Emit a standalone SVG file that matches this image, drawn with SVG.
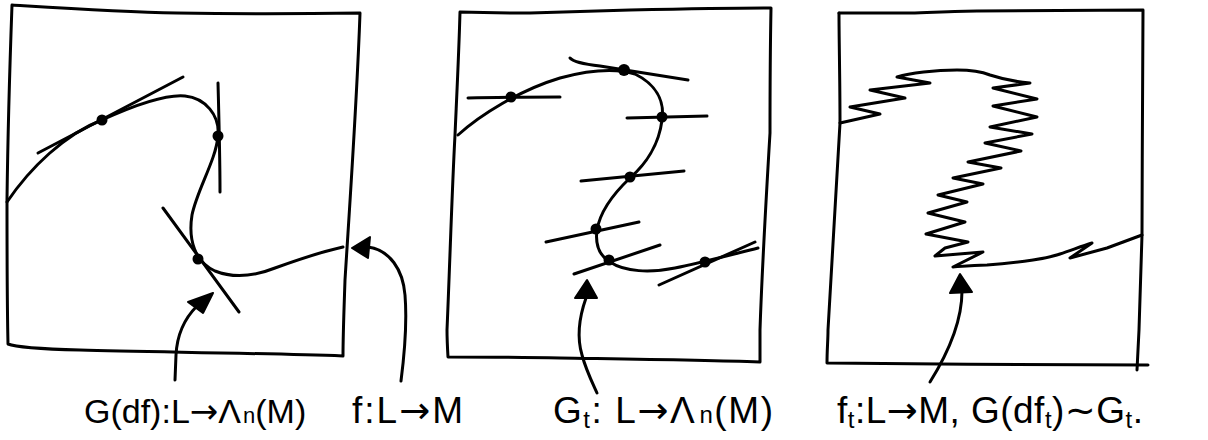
<svg xmlns="http://www.w3.org/2000/svg" width="1208" height="440" viewBox="0 0 1208 440">
  <style>
    .ink { fill: none; stroke: #000; stroke-width: 3; stroke-linecap: round; stroke-linejoin: round; }
    .box { fill: none; stroke: #000; stroke-width: 3; stroke-linecap: round; stroke-linejoin: round; }
    .dot { fill: #000; }
    .head { fill: #000; stroke: #000; stroke-width: 2; stroke-linejoin: round; }
    .lbl { font-family: "Liberation Sans", "DejaVu Sans", sans-serif; font-size: 37px; fill: #000; }
    .sub { font-size: 24px; }
    .arr { font-family: "DejaVu Sans", sans-serif; }
  </style>
  <rect width="1208" height="440" fill="#fff"/>

  <!-- Panel 1 -->
  <g id="panel1">
    <path class="box" d="M12,5 C60,8 120,12 177,13 C230,14 300,14 360,13 C357,100 350,200 345,280 C344,310 343,335 343,356 C260,353 150,352 80,350 C40,349 15,347 8,344 C7,300 7,230 7,200 C8,120 10,60 12,5 Z"/>
    <path class="ink" d="M7,202 C30,168 65,134 102,120 C135,105 165,94 185,96 C205,98 220,115 218,136 C216,160 197,190 192,215 C188,240 195,262 215,271 C235,279 255,276 275,268 C300,259 320,252 343,247"/>
    <line class="ink" x1="38" y1="153" x2="183" y2="77"/>
    <path class="ink" d="M218,83 C219,120 220,160 220,192"/>
    <line class="ink" x1="163" y1="208" x2="239" y2="312"/>
    <circle class="dot" cx="102" cy="120" r="5.5"/>
    <circle class="dot" cx="218" cy="136" r="5.5"/>
    <circle class="dot" cx="198" cy="259" r="5.5"/>
  </g>

  <!-- Panel 2 -->
  <g id="panel2">
    <path class="box" d="M460,12 C490,13 510,13 530,13 C570,12 600,11 630,10 C680,9 730,8 771,8 C770,60 770,100 770,133 C766,200 762,270 760,330 L760,362 C700,360 620,359 560,358 C520,357 480,357 448,357 C447,340 447,335 447,330 C450,260 452,190 455,135 C457,90 459,50 460,12 Z"/>
    <path class="ink" d="M458,135 C480,115 520,90 560,78 C590,70 615,68 635,74 C655,84 665,100 662,120 C659,145 645,165 630,178 C612,195 600,212 597,230 C595,245 600,256 610,262 C625,272 650,273 675,268 C700,263 730,255 758,248"/>
    <path class="ink" d="M468,98 C500,97 530,97 560,97"/>
    <path class="ink" d="M570,58 Q574,63 600,66 L688,80"/>
    <line class="ink" x1="627" y1="118" x2="707" y2="116"/>
    <line class="ink" x1="581" y1="181" x2="684" y2="171"/>
    <line class="ink" x1="546" y1="242" x2="639" y2="222"/>
    <line class="ink" x1="574" y1="274" x2="660" y2="245"/>
    <line class="ink" x1="659" y1="285" x2="755" y2="242"/>
    <circle class="dot" cx="511" cy="97" r="5.5"/>
    <circle class="dot" cx="624" cy="70" r="6"/>
    <circle class="dot" cx="662" cy="117" r="5.5"/>
    <circle class="dot" cx="630" cy="177" r="5.5"/>
    <circle class="dot" cx="596" cy="229" r="5.5"/>
    <circle class="dot" cx="609" cy="260" r="5.5"/>
    <circle class="dot" cx="705" cy="262" r="5.5"/>
  </g>

  <!-- Panel 3 -->
  <g id="panel3">
    <path class="box" d="M839,13 C870,13 890,13 910,13 C940,12 960,11 977,11 C1040,11 1100,10 1143,10 C1143,80 1142,160 1142,235 C1141,270 1140,300 1139,330 L1137,370"/>
    <path class="box" d="M1148,365 C1050,365 930,364 827,363 C827,350 828,340 828,330 C832,260 836,190 840,123 C840,80 839,40 839,13"/>
    <path class="ink" d="M840,123 L880,114 L850,107 L905,98 L870,90 L930,83 L897,77 C910,73 935,70 957,70 C970,70 980,71 990,75 C1005,80 1018,82 1030,83 L993,88 L1037,99 L993,106 L1037,117 L990,127 L1032,134 L985,143 L1021,151 L968,162 L1001,168 L953,178 L983,184 L938,195 L967,202 L928,213 L965,222 L926,234 L968,242 L945,248 L935,256 L983,252 L953,267 C965,266 975,265 987,265 C1005,264 1020,262 1033,260 C1045,258 1055,256 1060,254 C1072,250 1082,246 1092,243 L1070,258 L1107,248 L1142,235"/>
  </g>

  <!-- Connectors -->
  <g id="connectors">
    <path class="ink" d="M197,306 C185,318 177,335 176,355 L175,380"/>
    <polygon class="head" points="213,293 188,302 203,313"/>
    <path class="ink" d="M368,247 C390,250 403,270 405,295 C407,320 405,350 401,381"/>
    <polygon class="head" points="352,248 370,237 368,258"/>
    <path class="ink" d="M586,298 C580,315 576,335 582,355 C586,370 592,382 597,393"/>
    <polygon class="head" points="587,280 575,298 597,298"/>
    <path class="ink" d="M962,291 C962,320 950,350 930,382"/>
    <polygon class="head" points="960,274 950,293 972,292"/>
  </g>

  <!-- Labels -->
  <g id="labels">
    <text class="lbl" x="84" y="423" style="font-size:34px">G(df):L<tspan class="arr">→</tspan>Λ<tspan class="sub" dx="2" style="font-size:22px">n</tspan>(M)</text>
    <text class="lbl" x="352" y="423" textLength="111" lengthAdjust="spacing">f:L<tspan class="arr">→</tspan>M</text>
    <text class="lbl" x="553" y="423" textLength="220" lengthAdjust="spacing">G<tspan class="sub" dy="5">t</tspan><tspan dy="-5">: L</tspan><tspan class="arr">→</tspan>Λ<tspan class="sub" dx="3">n</tspan>(M)</text>
    <text class="lbl" x="837" y="423" textLength="306" lengthAdjust="spacing">f<tspan class="sub" dy="5">t</tspan><tspan dy="-5">:L</tspan><tspan class="arr">→</tspan>M, G(df<tspan class="sub" dy="5">t</tspan><tspan dy="-5">)∼G</tspan><tspan class="sub" dy="5">t</tspan><tspan dy="-5">.</tspan></text>
  </g>
</svg>
